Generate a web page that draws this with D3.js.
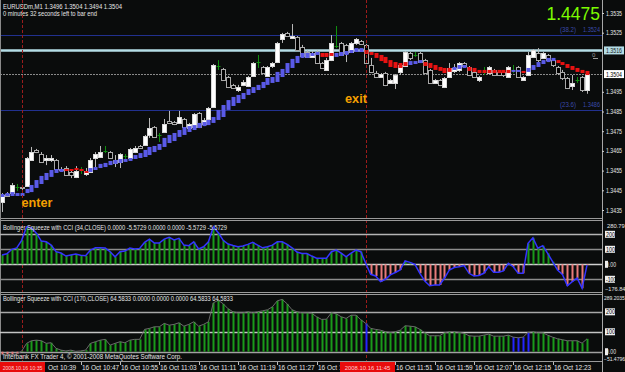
<!DOCTYPE html>
<html><head><meta charset="utf-8">
<script src="https://cdn.jsdelivr.net/npm/d3@7"></script>
<style>body{margin:0;background:#0a0c0c;}svg{display:block;}text{font-family:"Liberation Sans",Arial,sans-serif;}</style>
</head><body><svg id="c" width="625" height="372"></svg>
<script>
const open=[
1.34391,1.34431,1.34436,1.34467,1.34467,1.34472,1.34604,1.34655,1.34634,1.34604,
1.34604,1.34604,1.34558,1.34563,1.34543,1.34518,1.34553,1.34533,1.34543,1.34614,
1.34619,1.34649,1.34644,1.34604,1.34594,1.34624,1.34614,1.34644,1.34675,1.34680,
1.34731,1.34771,1.34731,1.34746,1.34802,1.34797,1.34792,1.34812,1.34766,1.34771,
1.34842,1.34787,1.34812,1.34873,1.35081,1.35066,1.35025,1.34985,1.34959,1.34985,
1.34979,1.35030,1.35101,1.35076,1.35030,1.35081,1.35101,1.35218,1.35249,1.35223,
1.35228,1.35177,1.35152,1.35127,1.35152,1.35096,1.35061,1.35111,1.35182,1.35198,
1.35188,1.35152,1.35198,1.35208,1.35188,1.35086,1.35045,1.35025,1.35045,1.34995,
1.34995,1.35051,1.35081,1.35147,1.35137,1.35147,1.35111,1.35061,1.34995,1.35010,
1.34974,1.35025,1.35056,1.35061,1.35096,1.35076,1.35051,1.35010,1.35051,1.35045,
1.35061,1.35051,1.35051,1.35025,1.35061,1.35076,1.35010,1.35035,1.35127,1.35147,
1.35122,1.35137,1.35111,1.35076,1.35051,1.35020,1.34979,1.35010,1.35025,1.3496];
const close=[
1.34426,1.34421,1.34477,1.34467,1.34462,1.34614,1.34644,1.34644,1.34594,1.34614,
1.34614,1.34558,1.34553,1.34528,1.34528,1.34548,1.34553,1.34548,1.34604,1.34634,
1.34644,1.34649,1.34614,1.34589,1.34634,1.34624,1.34660,1.34665,1.34665,1.34726,
1.34766,1.34721,1.34731,1.34787,1.34792,1.34787,1.34822,1.34771,1.34787,1.34837,
1.34771,1.34807,1.34868,1.35086,1.35081,1.35010,1.34974,1.34969,1.34974,1.35000,
1.35025,1.35096,1.35101,1.35045,1.35076,1.35096,1.35198,1.35243,1.35233,1.35233,
1.35162,1.35132,1.35127,1.35147,1.35096,1.35071,1.35111,1.35198,1.35182,1.35137,
1.35147,1.35198,1.35218,1.35193,1.35096,1.35051,1.35025,1.35040,1.34985,1.35010,
1.35035,1.35086,1.35152,1.35122,1.35137,1.35101,1.35045,1.34995,1.35010,1.34985,
1.35020,1.35071,1.35071,1.35096,1.35081,1.35035,1.35025,1.35025,1.35051,1.35076,
1.35035,1.35035,1.35035,1.35076,1.35061,1.35025,1.35025,1.35137,1.35162,1.35111,
1.35147,1.35111,1.35086,1.35045,1.35020,1.34969,1.34995,1.35010,1.34959,1.3504];
const high=[
1.34436,1.34441,1.34487,1.34482,1.34477,1.34619,1.34670,1.34660,1.34644,1.34629,
1.34629,1.34609,1.34568,1.34573,1.34553,1.34573,1.34568,1.34563,1.34614,1.34644,
1.34675,1.34675,1.34649,1.34629,1.34639,1.34634,1.34665,1.34675,1.34680,1.34731,
1.34817,1.34776,1.34741,1.34812,1.34853,1.34802,1.34853,1.34817,1.34792,1.34842,
1.34847,1.34817,1.34873,1.35091,1.35111,1.35071,1.35030,1.34990,1.34985,1.35010,
1.35030,1.35101,1.35137,1.35081,1.35081,1.35101,1.35203,1.35249,1.35254,1.35294,
1.35233,1.35188,1.35162,1.35157,1.35162,1.35101,1.35122,1.35238,1.35284,1.35203,
1.35193,1.35203,1.35223,1.35213,1.35193,1.35122,1.35056,1.35045,1.35051,1.35015,
1.35040,1.35096,1.35157,1.35152,1.35152,1.35152,1.35117,1.35066,1.35015,1.35015,
1.35025,1.35096,1.35091,1.35101,1.35101,1.35081,1.35056,1.35030,1.35076,1.35081,
1.35066,1.35056,1.35056,1.35081,1.35086,1.35081,1.35030,1.35152,1.35167,1.35172,
1.35152,1.35142,1.35117,1.35081,1.35061,1.35025,1.35035,1.35025,1.35030,1.3504];
const low=[
1.34340,1.34416,1.34426,1.34446,1.34452,1.34467,1.34599,1.34639,1.34589,1.34578,
1.34594,1.34553,1.34543,1.34523,1.34512,1.34512,1.34533,1.34523,1.34538,1.34568,
1.34614,1.34639,1.34609,1.34568,1.34563,1.34609,1.34609,1.34639,1.34660,1.34675,
1.34716,1.34716,1.34695,1.34741,1.34787,1.34781,1.34787,1.34766,1.34761,1.34766,
1.34766,1.34776,1.34807,1.34868,1.35061,1.35005,1.34969,1.34964,1.34949,1.34979,
1.34974,1.35025,1.35071,1.35040,1.35025,1.35071,1.35096,1.35198,1.35228,1.35218,
1.35157,1.35122,1.35122,1.35122,1.35091,1.35066,1.35056,1.35106,1.35172,1.35132,
1.35101,1.35147,1.35188,1.35188,1.35091,1.35045,1.35020,1.35020,1.34979,1.34990,
1.34964,1.35035,1.35076,1.35111,1.35127,1.35096,1.35040,1.34990,1.34990,1.34979,
1.34969,1.35020,1.35045,1.35051,1.35076,1.35030,1.35020,1.35000,1.35035,1.35040,
1.35030,1.35030,1.35025,1.35020,1.35045,1.35020,1.35005,1.35030,1.35122,1.35101,
1.35117,1.35101,1.35076,1.35035,1.35010,1.34964,1.34959,1.34995,1.34949,1.3494];
const haOpen=[
1.34416,1.34421,1.34421,1.34421,1.34421,1.34436,1.34441,1.34462,1.34482,1.34502,
1.34518,1.34538,1.34543,1.34558,1.34558,1.34563,1.34558,1.34548,1.34543,1.34553,
1.34563,1.34568,1.34578,1.34584,1.34589,1.34594,1.34599,1.34609,1.34614,1.34619,
1.34629,1.34644,1.34655,1.34670,1.34690,1.34700,1.34721,1.34731,1.34746,1.34756,
1.34766,1.34776,1.34781,1.34792,1.34807,1.34822,1.34858,1.34878,1.34893,1.34913,
1.34934,1.34944,1.34959,1.34969,1.34985,1.34995,1.35000,1.35025,1.35045,1.35071,
1.35096,1.35122,1.35122,1.35132,1.35137,1.35147,1.35147,1.35147,1.35127,1.35132,
1.35137,1.35147,1.35152,1.35152,1.35162,1.35152,1.35147,1.35137,1.35127,1.35111,
1.35101,1.35096,1.35101,1.35086,1.35091,1.35096,1.35101,1.35096,1.35086,1.35076,
1.35071,1.35071,1.35061,1.35066,1.35071,1.35076,1.35071,1.35061,1.35061,1.35061,
1.35061,1.35061,1.35061,1.35061,1.35051,1.35051,1.35056,1.35051,1.35061,1.35076,
1.35091,1.35101,1.35106,1.35111,1.35101,1.35091,1.35081,1.35071,1.35061,1.35056];
const haClose=[
1.34431,1.34436,1.34441,1.34436,1.34436,1.34457,1.34477,1.34502,1.34523,1.34538,
1.34553,1.34558,1.34558,1.34548,1.34548,1.34553,1.34548,1.34538,1.34563,1.34568,
1.34584,1.34589,1.34599,1.34604,1.34609,1.34609,1.34614,1.34629,1.34639,1.34655,
1.34670,1.34675,1.34685,1.34716,1.34731,1.34741,1.34756,1.34771,1.34776,1.34781,
1.34792,1.34797,1.34807,1.34822,1.34858,1.34883,1.34908,1.34924,1.34934,1.34944,
1.34964,1.34974,1.34985,1.35000,1.35020,1.35025,1.35051,1.35066,1.35096,1.35117,
1.35132,1.35147,1.35147,1.35147,1.35152,1.35127,1.35127,1.35132,1.35147,1.35152,
1.35157,1.35162,1.35172,1.35172,1.35142,1.35137,1.35122,1.35106,1.35096,1.35076,
1.35071,1.35071,1.35081,1.35106,1.35106,1.35111,1.35081,1.35071,1.35061,1.35056,
1.35045,1.35051,1.35076,1.35086,1.35086,1.35056,1.35051,1.35045,1.35045,1.35045,
1.35045,1.35045,1.35045,1.35045,1.35061,1.35061,1.35045,1.35071,1.35086,1.35101,
1.35111,1.35122,1.35122,1.35096,1.35086,1.35071,1.35061,1.35051,1.35045,1.35035];
const cci34=[62,70,100,109,160,250,242,208,155,150,
128,84,75,55,62,68,60,57,95,110,
110,108,84,50,84,88,108,102,106,146,
168,142,142,168,180,162,173,128,124,150,
102,117,150,250,210,160,135,125,117,122,
133,146,128,110,117,128,150,150,133,110,
82,72,72,55,40,40,40,84,95,75,
50,75,95,84,5,-67,-78,-116,-100,-71,
-55,-38,22,13,0,-60,-111,-143,-138,-138,
-93,-38,-22,-16,-9,-60,-78,-75,-60,-16,
-53,-53,-44,7,-16,-60,-60,140,177,107,
124,73,17,-38,-67,-143,-116,-93,-160,-5.5729];
const cci170=[-15,-15,-15,-12,3,42,55,58,55,42,
45,17,8,4,8,2,4,8,42,50,
58,62,33,42,50,45,58,62,62,112,
117,125,125,142,133,137,145,128,137,150,
128,137,150,245,258,240,215,200,195,195,
200,195,200,205,210,225,255,262,240,210,
200,195,195,193,175,162,163,195,190,175,
167,183,183,160,142,117,112,108,100,97,
100,108,130,128,125,112,95,80,80,80,
95,100,100,97,92,80,78,78,83,88,
78,78,78,83,73,70,73,97,100,95,
95,83,73,65,60,55,55,55,43,64.5833];
const cci170Squeeze=[74,104,105,106,107];
const cci34Range=[-176.84,280.79];
const cci170Range=[-51.4796,289.2035];
const cci34Levels=[200,100,0,-100];
const cci170Levels=[200,100,0];
const priceTicks=[1.3535,1.3525,1.3495,1.3485,1.3475,1.3465,1.3455,1.3445,1.3435];
const fibLevels=[{p:1.3524,label:"(38.2)"},{p:1.3486,label:"(23.6)"}];
const highlightPrice=1.3516;
const bidPrice=1.3504;
const enterIdx=4, exitIdx=74;
const timeTickIdx=[8,16,24,32,40,48,56,64,72,80,88,96,104,112];
const symbolText="EURUSDm,M1  1.3496 1.3504 1.3494 1.3504";
const timerText="0 minutes 32 seconds left to bar end";
const bigNumber="1.4475";
const p1Title="Bollinger Squeeze with CCI (34,CLOSE) 0.0000 -5.5729 0.0000 0.0000 -5.5729 -5.5729";
const p2Title="Bollinger Squeeze with CCI (170,CLOSE) 64.5833 0.0000 0.0000 0.0000 64.5833 64.5833";
const copyright="Interbank FX Trader 4, \u00a9 2001-2008 MetaQuotes Software Corp.";

const svg=d3.select('#c');
svg.append('rect').attr('width',625).attr('height',372).attr('fill','#0a0c0c');
const N=close.length;
const t0=new Date(2008,9,16,10,31);
const times=d3.range(N).map(i=>d3.timeMinute.offset(t0,i));
const x=d3.scaleLinear().domain([0,N-1]).range([2,587]);
const px=i=>Math.round(x(i));
const AX=602;
const y=d3.scaleLinear().domain([1.3435,1.3535]).range([210,13]);
const y1=d3.scaleLinear().domain(cci34Range).range([290.8,222.2]);
const y2=d3.scaleLinear().domain(cci170Range).range([362,294]);
const defs=svg.append('defs');
function clip(id,y0,h){defs.append('clipPath').attr('id',id).append('rect').attr('x',0).attr('y',y0).attr('width',AX).attr('height',h);}
clip('cm',0,218);clip('c1',221,71);clip('c2',295,66);
const txt=(g,s,xx,yy,opt={})=>{const t=g.append('text').attr('x',xx).attr('y',yy).text(s).attr('font-size',opt.fs||6.5).attr('fill',opt.fill||'#e6e6e6');if(opt.len)t.attr('textLength',opt.len).attr('lengthAdjust','spacingAndGlyphs');if(opt.anchor)t.attr('text-anchor',opt.anchor);if(opt.fw)t.attr('font-weight',opt.fw);return t;};

// ---------- main panel
const gm=svg.append('g').attr('clip-path','url(#cm)');
fibLevels.forEach(f=>{gm.append('line').attr('x1',0).attr('x2',AX).attr('y1',Math.round(y(f.p))+0.5).attr('y2',Math.round(y(f.p))+0.5).attr('stroke','#22318f').attr('stroke-width',1.2);});
gm.append('line').attr('x1',0).attr('x2',AX).attr('y1',y(highlightPrice)).attr('y2',y(highlightPrice)).attr('stroke','#b4dde6').attr('stroke-width',2.6);
gm.append('line').attr('x1',0).attr('x2',AX).attr('y1',Math.round(y(bidPrice))+0.5).attr('y2',Math.round(y(bidPrice))+0.5).attr('stroke','#8a8a8a').attr('stroke-dasharray','2,1');
const idx=d3.range(N);
idx.forEach(i=>{
  const cx=px(i)+0.5,o=open[i],c=close[i];
  if(o===c){
    gm.append('line').attr('x1',cx).attr('x2',cx).attr('y1',y(high[i])).attr('y2',y(low[i])).attr('stroke','#0f8f0f');
    gm.append('line').attr('x1',cx-2).attr('x2',cx+2).attr('y1',Math.round(y(o))+0.5).attr('y2',Math.round(y(o))+0.5).attr('stroke','#0f8f0f');
  } else {
    gm.append('line').attr('x1',cx).attr('x2',cx).attr('y1',y(high[i])).attr('y2',y(low[i])).attr('stroke','#b8b8b8');
    const top=Math.round(y(Math.max(o,c))),bot=Math.round(y(Math.min(o,c)));
    gm.append('rect').attr('x',cx-2).attr('y',top+0.5).attr('width',4).attr('height',Math.max(1,bot-top)).attr('fill',c>o?'#ffffff':'#000000').attr('stroke',c>o?'#d8d8d8':'#a8a8a8').attr('stroke-width',1);
  }
});
idx.forEach(i=>{
  const cx=px(i),a=haOpen[i],b=haClose[i];
  const top=y(Math.max(a,b)),bot=y(Math.min(a,b));
  gm.append('rect').attr('x',cx-1.5).attr('y',top).attr('width',4).attr('height',Math.max(2,bot-top)).attr('fill',b>=a?'#5a5ae8':'#e81212');
});
fibLevels.forEach(f=>{const yy=y(f.p)-2.5;txt(svg,f.label,560,yy,{fill:'#3a4aa8',len:16});txt(svg,d3.format('.4f')(f.p),583,yy,{fill:'#3a4aa8',len:17});});
txt(svg,'0',592,57,{fill:'#9a9a9a',fs:6});
svg.append('line').attr('x1',593).attr('x2',598).attr('y1',58.5).attr('y2',58.5).attr('stroke','#9a9a9a');
txt(svg,symbolText,3,8.5,{len:119});
txt(svg,timerText,3,15.5,{len:94});
txt(svg,bigNumber,600,19.5,{fs:17.5,fill:'#7cfc00',anchor:'end'});
[enterIdx,exitIdx].forEach(i=>{svg.append('line').attr('x1',px(i)+0.5).attr('x2',px(i)+0.5).attr('y1',0).attr('y2',362).attr('stroke','#9c1c1c').attr('stroke-dasharray','3,2');});
txt(svg,'enter',px(enterIdx)-0.5,207,{fs:13,fw:'bold',fill:'#f5a000',len:31});
txt(svg,'exit',px(exitIdx)+1,103,{fs:13,fw:'bold',fill:'#f5a000',anchor:'end',len:22});

// ---------- separators & frames
const sep=(yy,col,w)=>svg.append('line').attr('x1',0).attr('x2',AX).attr('y1',yy).attr('y2',yy).attr('stroke',col).attr('stroke-width',w||1);
sep(218.5,'#9a9a9a');sep(220.5,'#9a9a9a');sep(292.5,'#9a9a9a');sep(294.5,'#9a9a9a');sep(361.5,'#9a9a9a');
svg.append('line').attr('x1',0.5).attr('x2',0.5).attr('y1',0).attr('y2',362).attr('stroke','#8a8a8a');
svg.append('line').attr('x1',AX+0.5).attr('x2',AX+0.5).attr('y1',0).attr('y2',372).attr('stroke','#a8a8a8');

// ---------- panel 1
const g1=svg.append('g').attr('clip-path','url(#c1)');
const lvlCol={200:'#b4b4b4',100:'#8c8c8c',0:'#d0d0d0','-100':'#8c8c8c'};
cci34Levels.forEach(l=>g1.append('line').attr('x1',0).attr('x2',AX).attr('y1',Math.round(y1(l))+0.5).attr('y2',Math.round(y1(l))+0.5).attr('stroke',lvlCol[l]).attr('stroke-width',1.3));
idx.forEach(i=>{const v=cci34[i];g1.append('line').attr('x1',px(i)+0.5).attr('x2',px(i)+0.5).attr('y1',y1(0)).attr('y2',y1(v)).attr('stroke',v>=0?'#1a9a1a':'#e87a7a').attr('stroke-width',2);});
g1.append('path').datum(cci34).attr('d',d3.line().x((d,i)=>x(i)).y(d=>y1(d))).attr('fill','none').attr('stroke','#3434ff').attr('stroke-width',1.5);
txt(svg,p1Title,3,230,{len:224});

// ---------- panel 2
const g2=svg.append('g').attr('clip-path','url(#c2)');
const lvlCol2={200:'#a8a8a8',100:'#c4c4c4',0:'#a0a0a0'};
cci170Levels.forEach(l=>g2.append('line').attr('x1',0).attr('x2',AX).attr('y1',Math.round(y2(l))+0.5).attr('y2',Math.round(y2(l))+0.5).attr('stroke',lvlCol2[l]).attr('stroke-width',1.3));
idx.forEach(i=>{const v=cci170[i];const blue=cci170Squeeze.includes(i);g2.append('line').attr('x1',px(i)+0.5).attr('x2',px(i)+0.5).attr('y1',y2(0)).attr('y2',y2(v)).attr('stroke',blue?'#2424ff':(v>=0?'#1a9a1a':'#e87a7a')).attr('stroke-width',2);});
g2.append('path').datum(cci170).attr('d',d3.line().x((d,i)=>x(i)).y(d=>y2(d))).attr('fill','none').attr('stroke','#6a6a6a').attr('stroke-width',1);
txt(svg,p2Title,3,301,{len:230});
txt(svg,copyright,3,358.5,{len:179});

// ---------- right axes
const ga=svg.append('g').attr('transform',`translate(${AX},0)`);
const ax=d3.axisRight(y).tickValues(priceTicks).tickSize(2).tickPadding(2).tickFormat(d3.format('.4f'));
ga.call(ax);
ga.select('.domain').remove();
ga.selectAll('line').attr('stroke','#cfcfcf');
ga.selectAll('text').attr('fill','#e6e6e6').attr('font-size',6.5).attr('font-family','Liberation Sans').attr('textLength',16).attr('lengthAdjust','spacingAndGlyphs');
function boxLabel(v,yy,bg,fg){const s=d3.format('.4f')(v);svg.append('rect').attr('x',AX+2).attr('y',yy-4).attr('width',20).attr('height',8).attr('fill',bg);txt(svg,s,AX+4,yy+2.5,{fill:fg,len:16});}
boxLabel(highlightPrice,y(highlightPrice),'#b4dde6','#1a1a1a');
boxLabel(bidPrice,y(bidPrice),'#ffffff','#000000');
txt(svg,d3.format('.2f')(cci34Range[1]),AX+5,228,{fs:5.8});
txt(svg,d3.format('.2f')(cci34Range[0]),AX+3,291,{fs:5.6});
cci34Levels.forEach(l=>{const yy=y1(l);const s=l===0?'0.00':String(l);svg.append('rect').attr('x',AX+3).attr('y',yy-3.5).attr('width',l===0?3:10).attr('height',7).attr('fill','#f0f0f0');txt(svg,s,AX+4,yy+2.5,{fill:l===0?'#e6e6e6':'#000',len:l===0?10:(l<0?10:9)});});
txt(svg,d3.format('.4f')(cci170Range[1]),AX+2,300,{fs:5});
txt(svg,d3.format('.4f')(cci170Range[0]),AX+2,361,{fs:5});
cci170Levels.forEach(l=>{const yy=y2(l);const s=l===0?'0.00':String(l);svg.append('rect').attr('x',AX+3).attr('y',yy-3.5).attr('width',l===0?3:10).attr('height',7).attr('fill','#f0f0f0');txt(svg,s,AX+4,yy+2.5,{fill:l===0?'#e6e6e6':'#000',len:l===0?10:9});});

// ---------- time axis (labels hidden under the event boxes are trimmed to their visible part)
const fmt=d3.timeFormat('%d %b %H:%M');
const fmtFull=d3.timeFormat('%Y.%m.%d %H:%M');
const CW=37/12;
const boxes=[{i:enterIdx,x0:0,w:45,fs:5.1},{i:exitIdx,x0:px(exitIdx)-26,w:55,fs:5.9}];
timeTickIdx.forEach(i=>{
  let s=fmt(times[i]),sx=px(i)+1;
  svg.append('line').attr('x1',px(i)+0.5).attr('x2',px(i)+0.5).attr('y1',362).attr('y2',365).attr('stroke','#bbbbbb');
  boxes.forEach(b=>{
    const bx1=b.x0+b.w;
    if(sx>=b.x0&&sx<bx1){const drop=s.indexOf(' ')+1;const rem=s.slice(drop);const ex=sx+s.length*CW;if(ex<=bx1+CW*rem.length*0.3){s='';}else{s=rem;sx=bx1+3;}}
    else if(sx<b.x0&&sx+s.length*CW>b.x0){const n=Math.round((b.x0-sx)/CW)+1;s=s.slice(0,n);}
  });
  if(s)txt(svg,s,sx,369.5);
});
boxes.forEach(b=>{svg.append('rect').attr('x',b.x0).attr('y',362).attr('width',b.w).attr('height',10).attr('fill','#e80c0c');txt(svg,fmtFull(times[b.i]),b.x0+b.w/2,369.5,{fill:'#ffcccc',fs:b.fs,anchor:'middle'});});
</script></body></html>
